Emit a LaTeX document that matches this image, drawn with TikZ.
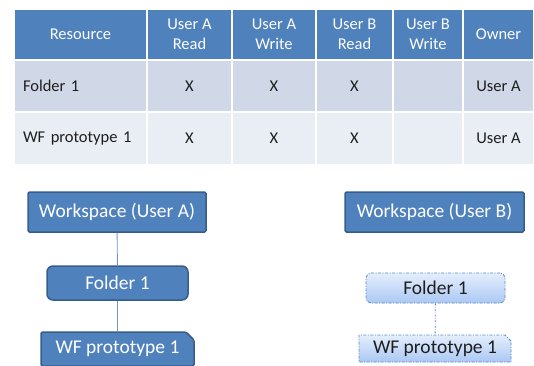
\documentclass[tikz,border=0pt]{standalone}
\usepackage{fontspec}
\setmainfont{Carlito}
\usetikzlibrary{positioning, shapes.misc}

\definecolor{hdrblue}{HTML}{4F81BD}
\definecolor{rowdark}{HTML}{D0D8E8}
\definecolor{rowlight}{HTML}{E9EDF4}
\definecolor{boxedge}{HTML}{385D8A}
\definecolor{linkblue}{HTML}{7397C6}
\definecolor{ghosttop}{HTML}{E4EEFC}
\definecolor{ghostbot}{HTML}{ABC8F4}
\definecolor{ghostedge}{HTML}{5B87C5}
\definecolor{bodytext}{HTML}{1E1E1E}

\tikzset{
	cell/.style={draw=white, line width=1.5pt, inner sep=0pt, align=center,
		font=\fontsize{16.5}{20}\selectfont},
	hcell/.style={cell, fill=hdrblue, text=white, minimum height=51pt},
	bcell/.style={cell, text=bodytext},
	namecell/.style={bcell, align=left, text width=115pt, inner xsep=9pt},
	wsbox/.style={draw=boxedge, line width=1.5pt, fill=hdrblue, text=white,
		font=\fontsize{19.5}{23}\selectfont, inner sep=0pt, rounded corners=1.5pt},
	folderbox/.style={wsbox, rounded corners=6pt},
	wfbox/.style={wsbox, chamfered rectangle, chamfered rectangle corners=north east,
		chamfered rectangle xsep=4pt, chamfered rectangle ysep=4pt},
	ghost/.style={draw=ghostedge, line width=0.8pt, top color=ghosttop, bottom color=ghostbot,
		dash pattern=on 3pt off 1.5pt on 1pt off 1.5pt, text=bodytext,
		font=\fontsize{19.5}{23}\selectfont, inner sep=0pt},
	ghostfolder/.style={ghost, rounded corners=5pt},
	ghostwf/.style={ghost, chamfered rectangle, chamfered rectangle corners=north east,
		chamfered rectangle xsep=3pt, chamfered rectangle ysep=3pt},
	link/.style={draw=linkblue, line width=0.9pt},
	ghostlink/.style={draw=ghostedge, line width=0.8pt, dash pattern=on 2pt off 1.5pt on 0.6pt off 1.5pt}
}

\begin{document}
\begin{tikzpicture}[x=1pt, y=-1pt]
	\useasboundingbox (0,0) rectangle (534,365);

	% access table
	\node[hcell, minimum width=133pt] (hres) at (80.5,34.5) {Resource};
	\foreach \cx/\w/\n/\t in {189.5/85/ar/{User A\\Read}, 274/84/aw/{User A\\Write},
			354.5/77/br/{User B\\Read}, 428/70/bw/{User B\\Write}, 498.5/71/own/Owner}
		\node[hcell, minimum width=\w pt] (h\n) at (\cx,34.5) {\t};

	\node[namecell, fill=rowdark, minimum height=52pt] (fres) at (80.5,86) {Folder 1};
	\foreach \cx/\w/\n/\t in {189.5/85/ar/X, 274/84/aw/X, 354.5/77/br/X, 428/70/bw/{}, 498.5/71/own/User A}
		\node[bcell, fill=rowdark, minimum width=\w pt, minimum height=52pt] (f\n) at (\cx,86) {\t};

	\node[namecell, fill=rowlight, minimum height=53pt] (pres) at (80.5,138.5) {WF prototype 1};
	\foreach \cx/\w/\n/\t in {189.5/85/ar/X, 274/84/aw/X, 354.5/77/br/X, 428/70/bw/{}, 498.5/71/own/User A}
		\node[bcell, fill=rowlight, minimum width=\w pt, minimum height=53pt] (p\n) at (\cx,138.5) {\t};

	% workspace of user A
	\node[wsbox, minimum width=178pt, minimum height=40pt] (wsa) at (117,212) {Workspace (User A)};
	\node[folderbox, minimum width=141pt, minimum height=34pt] (fda) at (117.5,283) {Folder 1};
	\node[wfbox, minimum width=153pt, minimum height=34pt] (wfa) at (117.5,349) {WF prototype 1};
	\draw[link] (wsa) -- (fda);
	\draw[link] (fda) -- (wfa);

	% workspace of user B
	\node[wsbox, minimum width=179pt, minimum height=40pt] (wsb) at (434.5,212) {Workspace (User B)};
	\node[ghostfolder, minimum width=139pt, minimum height=30pt] (fdb) at (435.5,288) {Folder 1};
	\node[ghostwf, minimum width=152pt, minimum height=27pt] (wfb) at (435,348.5) {WF prototype 1};
	\draw[ghostlink] (fdb) -- (wfb);
\end{tikzpicture}
\end{document}
